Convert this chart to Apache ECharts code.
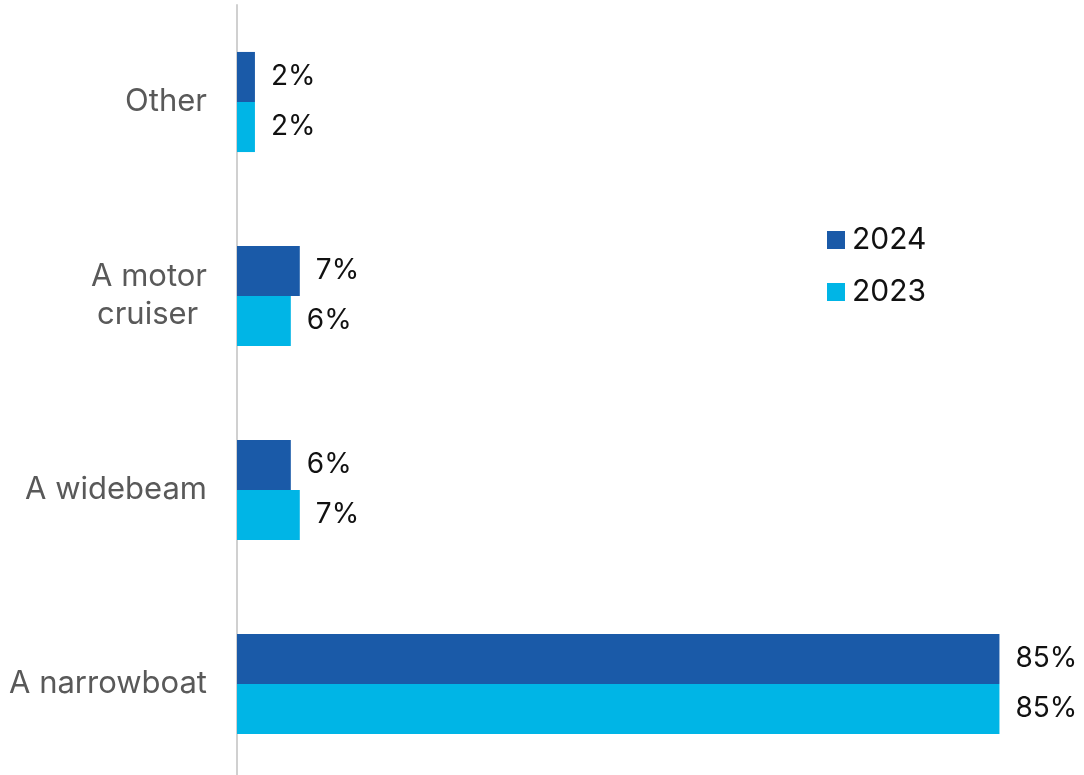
<!DOCTYPE html>
<html>
<head>
<meta charset="utf-8">
<script src="https://cdn.jsdelivr.net/npm/echarts@6/dist/echarts.min.js"></script>
<style>
  html, body { margin: 0; padding: 0; background: #ffffff; }
  #chart { width: 1084px; height: 775px; }
</style>
</head>
<body>
<div id="chart"></div>
<script>
// Boat types, listed bottom to top along the category axis
const categories = ['A narrowboat', 'A widebeam', 'A motor\ncruiser ', 'Other'];
const values2024 = [85, 6, 7, 2];
const values2023 = [85, 7, 6, 2];
const seriesNames = ['2024', '2023'];

const FONT = 'Inter, "Noto Sans", sans-serif';

const chart = echarts.init(document.getElementById('chart'));

const valueLabel = {
  show: true,
  position: 'right',
  distance: 16,
  formatter: p => p.value + '%',
  color: '#111111',
  fontFamily: FONT,
  fontSize: 28
};

chart.setOption({
  animation: false,
  backgroundColor: '#ffffff',
  grid: { left: 237, top: 5, width: 897, height: 776, outerBoundsMode: 'none', containLabel: false },
  legend: {
    orient: 'vertical',
    left: 822,
    top: 220,
    itemWidth: 18,
    itemHeight: 18,
    itemGap: 22,
    icon: 'rect',
    textStyle: { color: '#111111', fontFamily: FONT, fontSize: 30, padding: [0, 0, 0, 2] },
    data: seriesNames
  },
  xAxis: {
    type: 'value',
    min: 0,
    max: 100,
    show: false
  },
  yAxis: {
    type: 'category',
    data: categories,
    axisLine: { show: true, lineStyle: { color: '#d0d0d0', width: 2 } },
    axisTick: { show: false },
    axisLabel: {
      margin: 30,
      color: '#595959',
      fontFamily: FONT,
      fontSize: 31,
      lineHeight: 38,
      padding: [4, 0, 0, 0]
    }
  },
  series: [
    {
      name: seriesNames[0],
      type: 'bar',
      data: values2024,
      itemStyle: { color: '#1a5aa8' },
      barGap: '0%',
      barCategoryGap: '48.4%',
      label: valueLabel
    },
    {
      name: seriesNames[1],
      type: 'bar',
      data: values2023,
      itemStyle: { color: '#00b5e6' },
      barGap: '0%',
      barCategoryGap: '48.4%',
      label: valueLabel
    }
  ]
});
</script>
</body>
</html>
